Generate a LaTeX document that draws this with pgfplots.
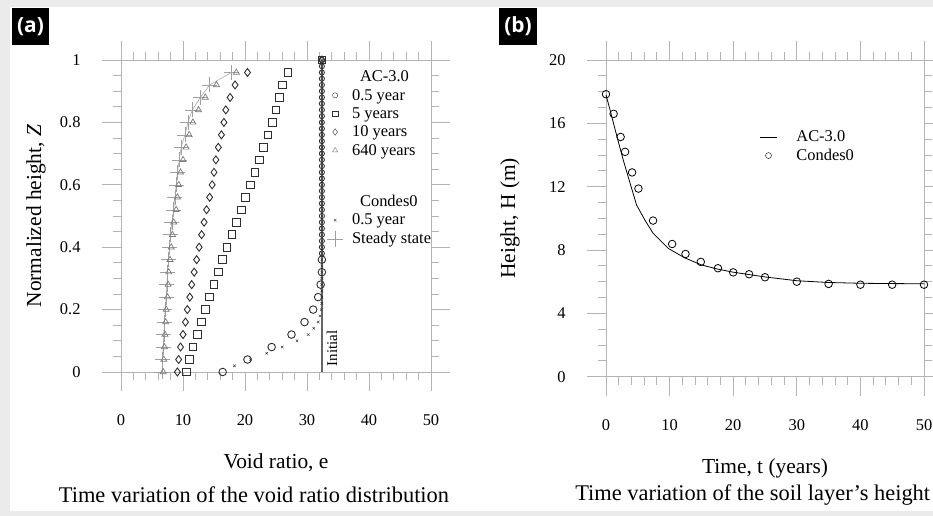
\documentclass[border=0pt]{standalone}
\usepackage{fontspec}
\setmainfont{Liberation Serif}
\newfontfamily\tagfont{Open Sans}
\usepackage{pgfplots}
\pgfplotsset{compat=1.18}

\definecolor{framegray}{HTML}{EBEBEB}
\definecolor{axisgray}{HTML}{B4B4B4}
\definecolor{markdark}{HTML}{2E2E2E}
\definecolor{markgray}{HTML}{7A7A7A}
\definecolor{plusgray}{HTML}{A0A0A0}
\definecolor{initgray}{HTML}{666666}

\pgfplotsset{
  panel/.style={
    scale only axis,
    clip=false,
    axis line style={axisgray, line width=0.9pt},
    tick style={axisgray, line width=0.9pt},
    tick align=outside,
    major tick length=19bp,
    minor tick length=8bp,
    xmin=0, xmax=50,
    xtick={0,10,20,30,40,50},
    minor x tick num=4,
    minor y tick num=3,
    ticklabel style={font=\fontsize{16.5}{18}\selectfont},
    xticklabel style={yshift=-20bp},
    yticklabel style={xshift=-18bp},
    /pgf/number format/assume math mode=true,
    label style={font=\fontsize{21.5}{24}\selectfont},
    legend style={draw=none, fill=none, font=\fontsize{16.5}{18}\selectfont,
      anchor=north west, row sep=2bp},
    legend cell align=left,
  },
}

\begin{document}
\begin{tikzpicture}
\fill[framegray] (0,0) rectangle (933bp,516bp);
\fill[white] (10bp,5bp) rectangle (933bp,509bp);

% ---------- (a) void ratio ----------
\begin{axis}[panel,
  at={(121bp,144bp)}, anchor=south west,
  width=310bp, height=312bp,
  ymin=0, ymax=1,
  ytick={0,0.2,0.4,0.6,0.8,1},
  xlabel={Void ratio, e},
  ylabel={Normalized height, \textit{Z}},
  xlabel style={at={(axis description cs:0.5,-0.29)}, anchor=center},
  ylabel style={at={(axis description cs:-0.274,0.5)}, anchor=center},
  legend style={at={(0.653,0.979)}, column sep=7bp},
]
% initial state
\addplot[initgray, line width=1.3pt, forget plot] coordinates {(32.4,0) (32.4,1)};
% Condes0 steady state
\addplot[plusgray, line width=0.5pt, mark=+, mark size=7.5, forget plot] coordinates {
  (6.6,0) (6.7,0.04) (6.8,0.08) (6.9,0.12) (7.0,0.16) (7.1,0.20) (7.3,0.24)
  (7.4,0.28) (7.5,0.32) (7.7,0.36) (7.8,0.40) (8.0,0.44) (8.2,0.48) (8.5,0.52)
  (8.7,0.56) (8.9,0.60) (9.1,0.64) (9.4,0.68) (9.7,0.72) (10.3,0.76) (10.8,0.80)
  (11.5,0.84) (12.8,0.88) (14.3,0.92) (17.8,0.96)};
% AC-3.0 640 years
\addplot[only marks, mark=triangle, mark size=3.5, markgray, line width=0.7pt, forget plot] coordinates {
  (6.8,0) (6.9,0.04) (7.0,0.08) (7.1,0.12) (7.2,0.16) (7.3,0.20) (7.5,0.24)
  (7.6,0.28) (7.7,0.32) (7.9,0.36) (8.1,0.40) (8.3,0.44) (8.5,0.48) (8.9,0.52)
  (9.1,0.56) (9.3,0.60) (9.6,0.64) (10.0,0.68) (10.5,0.72) (11.0,0.76) (11.6,0.80)
  (12.5,0.84) (13.6,0.88) (15.4,0.92) (18.6,0.96) (32.4,1)};
% AC-3.0 10 years
\addplot[only marks, mark=diamond, mark size=4, markdark, line width=0.9pt, forget plot] coordinates {
  (9.1,0) (9.3,0.04) (9.6,0.08) (10.0,0.12) (10.4,0.16) (10.7,0.20) (11.1,0.24)
  (11.4,0.28) (11.8,0.32) (12.2,0.36) (12.6,0.40) (13.0,0.44) (13.4,0.48) (13.8,0.52)
  (14.3,0.56) (14.7,0.60) (15.0,0.64) (15.3,0.68) (15.7,0.72) (16.2,0.76) (16.6,0.80)
  (16.9,0.84) (17.6,0.88) (18.4,0.92) (20.4,0.96) (32.4,1)};
% AC-3.0 5 years
\addplot[only marks, mark=square, mark size=3.8, markdark, line width=0.9pt, forget plot] coordinates {
  (10.6,0) (11.0,0.04) (11.6,0.08) (12.3,0.12) (13.0,0.16) (13.6,0.20) (14.3,0.24)
  (15.0,0.28) (15.7,0.32) (16.4,0.36) (17.1,0.40) (17.9,0.44) (18.6,0.48) (19.4,0.52)
  (20.1,0.56) (20.9,0.60) (21.6,0.64) (22.3,0.68) (23.0,0.72) (23.7,0.76) (24.4,0.80)
  (25.0,0.84) (25.6,0.88) (26.0,0.92) (26.9,0.96) (32.4,1)};
% AC-3.0 0.5 year
\addplot[only marks, mark=o, mark size=3.8, markdark, line width=0.9pt, forget plot] coordinates {
  (16.4,0) (20.4,0.04) (24.3,0.08) (27.5,0.12) (29.6,0.16) (31.0,0.20) (31.8,0.24)
  (32.2,0.28) (32.4,0.32) (32.4,0.36)};
\addplot[only marks, mark=o, mark size=2.6, markdark, line width=0.8pt, forget plot] coordinates {
  (32.4,0.38) (32.4,0.40) (32.4,0.42) (32.4,0.44) (32.4,0.46) (32.4,0.48) (32.4,0.50)
  (32.4,0.52) (32.4,0.54) (32.4,0.56) (32.4,0.58) (32.4,0.60) (32.4,0.62) (32.4,0.64)
  (32.4,0.66) (32.4,0.68) (32.4,0.70) (32.4,0.72) (32.4,0.74) (32.4,0.76) (32.4,0.78)
  (32.4,0.80) (32.4,0.82) (32.4,0.84) (32.4,0.86) (32.4,0.88) (32.4,0.90) (32.4,0.92)
  (32.4,0.94) (32.4,0.96) (32.4,0.98) (32.4,1)};
% Condes0 0.5 year
\addplot[only marks, mark=x, mark size=1.8, markdark, forget plot] coordinates {
  (18.3,0.02) (20.9,0.04) (23.5,0.06) (26.0,0.08) (28.4,0.10) (30.2,0.12) (31.1,0.14)
  (31.8,0.16) (32.1,0.18) (32.3,0.20) (32.4,0.22) (32.4,0.24) (32.4,0.26) (32.4,0.28)
  (32.4,0.30) (32.4,0.32) (32.4,0.34) (32.4,0.36) (32.4,0.38) (32.4,0.40) (32.4,0.42)
  (32.4,0.44) (32.4,0.46) (32.4,0.48) (32.4,0.50) (32.4,0.52) (32.4,0.54) (32.4,0.56)
  (32.4,0.58) (32.4,0.60) (32.4,0.62) (32.4,0.64) (32.4,0.66) (32.4,0.68) (32.4,0.70)
  (32.4,0.72) (32.4,0.74) (32.4,0.76) (32.4,0.78) (32.4,0.80) (32.4,0.82) (32.4,0.84)
  (32.4,0.86) (32.4,0.88) (32.4,0.90) (32.4,0.92) (32.4,0.94) (32.4,0.96) (32.4,0.98)
  (32.4,1)};
\node[rotate=90, anchor=north west, inner sep=1bp, font=\fontsize{15}{16}\selectfont]
  at (axis cs:33.0,0.015) {Initial};

\addlegendimage{empty legend}\addlegendentry{\hspace{8bp}AC-3.0}
\addlegendimage{only marks, mark=o, mark size=2.6, markdark}\addlegendentry{0.5 year}
\addlegendimage{only marks, mark=square, mark size=2.6, markdark}\addlegendentry{5 years}
\addlegendimage{only marks, mark=diamond, mark size=3.2, markdark}\addlegendentry{10 years}
\addlegendimage{only marks, mark=triangle, mark size=3, markgray}\addlegendentry{640 years}
\addlegendimage{empty legend}\addlegendentry{\rule{0pt}{25bp}}
\addlegendimage{empty legend}\addlegendentry{\hspace{8bp}Condes0}
\addlegendimage{only marks, mark=x, mark size=1.8, markdark}\addlegendentry{0.5 year}
\addlegendimage{only marks, mark=+, mark size=8, plusgray, line width=0.5pt}\addlegendentry{Steady state}
\end{axis}

% ---------- (b) layer height ----------
\begin{axis}[panel,
  at={(606bp,139.3bp)}, anchor=south west,
  width=318bp, height=316.7bp,
  ymin=0, ymax=20,
  ytick={0,4,8,12,16,20},
  xlabel={Time, t (years)},
  ylabel={Height, H (m)},
  xlabel style={at={(axis description cs:0.5,-0.288)}, anchor=center},
  ylabel style={at={(axis description cs:-0.302,0.5)}, anchor=center},
  legend style={at={(0.473,0.79)}, column sep=17bp},
]
\addplot[black, line width=0.8pt, forget plot] coordinates {
  (0,17.8) (0.6,16.9) (1.7,15.2) (2.7,13.7) (3.8,12.2) (4.8,10.85) (6.1,9.9)
  (7.4,9.06) (9.8,8.1) (12.4,7.5) (15,7.06) (17.5,6.8) (20,6.6) (25,6.3)
  (30,6.06) (35,5.95) (40,5.9) (45,5.88) (50,5.87)};
\addplot[only marks, mark=o, mark size=3.8, black, line width=0.8pt, forget plot] coordinates {
  (0,17.84) (1.2,16.6) (2.3,15.14) (3.0,14.2) (4.1,12.9) (5.1,11.88) (7.4,9.86)
  (10.4,8.38) (12.5,7.75) (14.9,7.25) (17.6,6.85) (20,6.59) (22.5,6.47) (25,6.28)
  (30,6.0) (35,5.86) (40,5.81) (45,5.81) (50,5.81)};

\addlegendimage{black, line width=0.8pt}\addlegendentry{AC-3.0}
\addlegendimage{only marks, mark=o, mark size=3, black}\addlegendentry{Condes0}
\end{axis}

% captions and panel tags
\node[font=\fontsize{22.5}{26}\selectfont] at (254bp,21bp)
  {Time variation of the void ratio distribution};
\node[font=\fontsize{22.5}{26}\selectfont] at (752.7bp,21bp)
  {Time variation of the soil layer’s height};
\fill[black] (12bp,471bp) rectangle (49bp,508bp);
\node[text=white, font=\tagfont\bfseries\fontsize{21}{24}\selectfont] at (30.5bp,489.5bp) {(a)};
\fill[black] (499bp,471bp) rectangle (537bp,508bp);
\node[text=white, font=\tagfont\bfseries\fontsize{21}{24}\selectfont] at (518bp,489.5bp) {(b)};

\pgfresetboundingbox
\useasboundingbox (0,0) rectangle (933bp,516bp);
\end{tikzpicture}
\end{document}
